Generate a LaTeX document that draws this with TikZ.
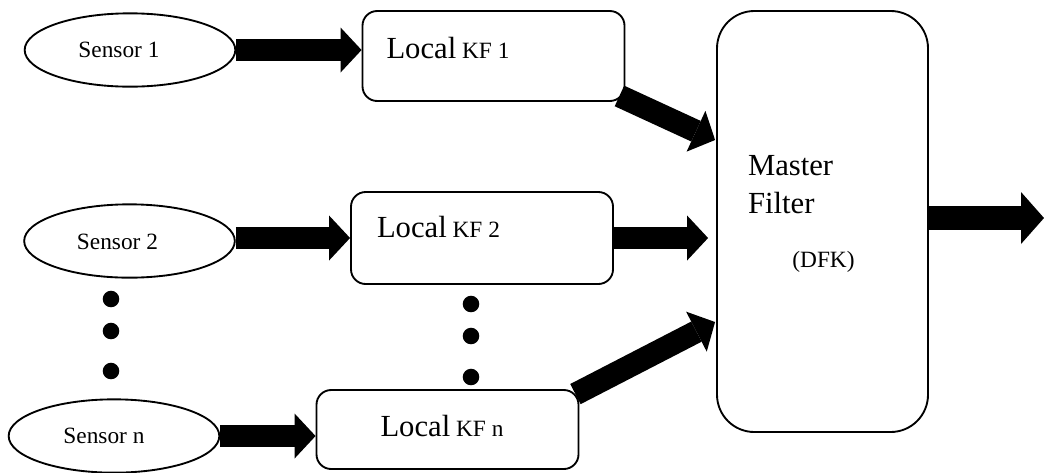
\documentclass[tikz,border=0pt]{standalone}
\usepackage{fontspec}
\setmainfont{Liberation Serif}
\usetikzlibrary{arrows.meta,calc,shapes.geometric}
\newcommand{\kfbig}{\fontsize{23pt}{28.5pt}\selectfont}
\newcommand{\kfsmall}{\fontsize{17.5pt}{21pt}\selectfont}
\tikzset{every picture/.style={line width=1.4pt}}
\tikzset{
sensor/.style={draw, ellipse, minimum width=158pt, minimum height=55pt, inner sep=0pt},
kfbox/.style={draw, rounded corners=11pt, minimum width=196.5pt, inner sep=0pt},
masterbox/.style={draw, rounded corners=28pt, minimum width=158.25pt, minimum height=315.75pt, inner sep=0pt},
fatarrow/.style={line width=17pt, -{Triangle[length=15.75pt, width=33.75pt, line width=0pt]}},
outarrow/.style={line width=18pt, -{Triangle[length=17.25pt, width=39pt, line width=0pt]}},
txt/.style={inner sep=0pt, font=\kfsmall}
}

\begin{document}
\begin{tikzpicture}[x=0.75pt,y=0.75pt,yscale=-1,xscale=1]
\useasboundingbox (0,0) rectangle (1044,472);

%Shape: Ellipse
\node [sensor] (s1) at (130,50) {};
%Shape: Ellipse
\node [sensor] (s2) at (129.5,241) {};
%Shape: Ellipse
\node [sensor] (sn) at (114,436) {};

%Rounded Rect
\node [kfbox, minimum height=67.5pt] (kf1) at (493.5,56) {};
%Rounded Rect
\node [kfbox, minimum height=69pt] (kf2) at (482,238) {};
%Rounded Rect
\node [kfbox, minimum height=59.25pt] (kfn) at (447.5,429.5) {};
%Rounded Rect
\node [masterbox] (master) at (822.5,221.5) {};

%Dots
\foreach \y in {299,331,371} {
  \fill (111,\y) circle (6.2pt);
}
\foreach \y in {304,336,377} {
  \fill (471,\y) circle (6.2pt);
}

%Block Arrows
\draw [fatarrow] (s1.east) -- (s1.east -| kf1.west);
\draw [fatarrow] (kf2.west -| s2.east) -- (kf2.west);
\draw [fatarrow] (sn.east) -- (sn.east -| kfn.west);
\draw [fatarrow, shorten >=6pt] (kf2.east) -- (kf2.east -| master.west);
\draw [fatarrow] ($(kf1.south east)+(-6,-6)$) -- ($(master.west)+(-1,-81.5)$);
\draw [fatarrow] ($(kfn.north east)+(-4,5)$) -- ($(master.west)+(-1,100.5)$);
\coordinate (out) at (1044,218);
\draw [outarrow] (out -| master.east) -- (out);

% Text Node
\node [txt] at ($(s1.center)+(-11,0)$) {Sensor 1};
% Text Node
\node [txt] at ($(s2.center)+(-12,1)$) {Sensor 2};
% Text Node
\node [txt] at ($(sn.center)+(-10,0)$) {Sensor n};
% Text Node
\node [txt, anchor=west] at ($(kf1.west)+(24,-8)$) {{\kfbig Local} KF 1};
% Text Node
\node [txt, anchor=west] at ($(kf2.west)+(26,-11)$) {{\kfbig Local} KF 2};
% Text Node
\node [txt, anchor=west] at ($(kfn.west)+(64,-4)$) {{\kfbig Local} KF n};
% Text Node
\node [txt, anchor=west, align=left, font=\kfbig] at ($(master.west)+(31,-36.5)$) {Master\\Filter};
% Text Node
\node [txt] at ($(master.center)+(1,40.5)$) {(DFK)};

\end{tikzpicture}
\end{document}
